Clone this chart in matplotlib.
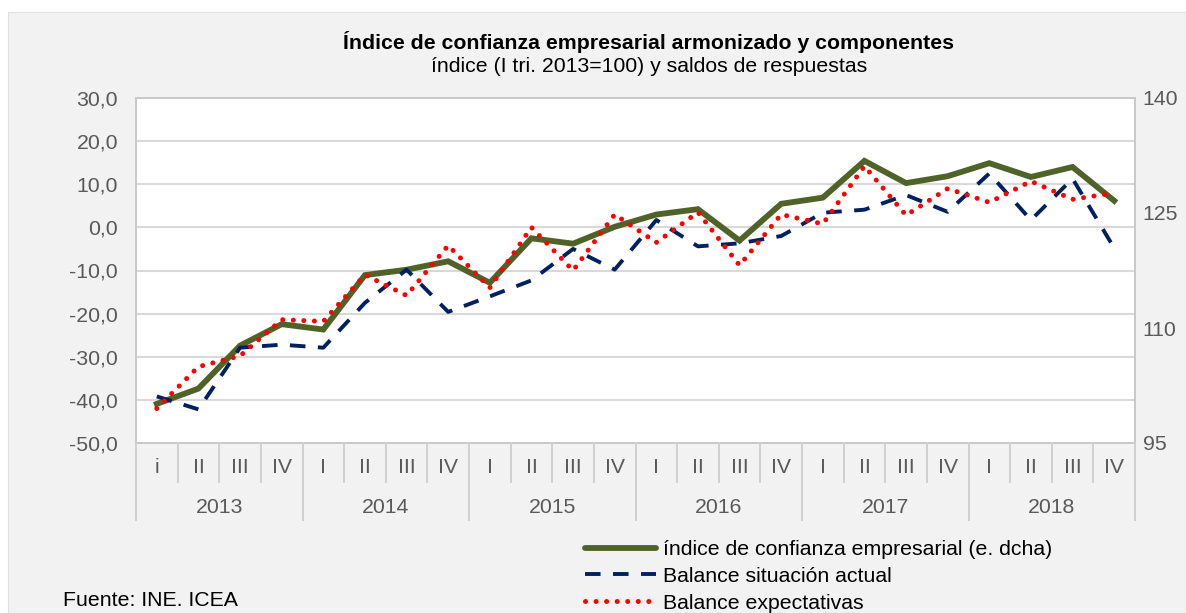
import numpy as np
import matplotlib
matplotlib.use("Agg")
import matplotlib.pyplot as plt
from matplotlib.patches import Rectangle
from matplotlib.lines import Line2D
import matplotlib.transforms as mtransforms

plt.rcParams['font.family'] = ['Liberation Sans', 'DejaVu Sans']

# data
years = ['2013', '2014', '2015', '2016', '2017', '2018']
quarters = ['i', 'II', 'III', 'IV',
            'I', 'II', 'III', 'IV',
            'I', 'II', 'III', 'IV',
            'I', 'II', 'III', 'IV',
            'I', 'II', 'III', 'IV',
            'I', 'II', 'III', 'IV']

# indice de confianza empresarial (right axis)
indice = [100.1, 102.1, 107.7, 110.5, 109.8, 116.9, 117.6, 118.7,
          115.9, 121.7, 121.0, 123.2, 124.8, 125.5, 121.4, 126.2,
          127.0, 131.8, 128.9, 129.8, 131.5, 129.7, 131.0, 126.6]

# balance situacion actual (left axis)
situacion = [-39.2, -42.2, -27.9, -27.2, -27.9, -17.5, -9.8, -19.6,
             -16.0, -12.3, -5.0, -9.8, 1.7, -4.4, -3.7, -2.0,
             3.4, 4.1, 7.5, 3.6, 12.5, 1.7, 11.3, -4.8]

# balance expectativas (left axis)
expectativas = [-42.0, -32.3, -29.8, -21.4, -21.8, -11.0, -15.8, -4.2,
                -14.0, 0.0, -10.0, 3.0, -3.5, 3.5, -8.8, 3.0,
                0.8, 14.2, 2.8, 9.0, 5.8, 10.7, 6.5, 8.0]

green = '#4f6228'
navy = '#002060'
red = '#ff0000'
grey_txt = '#595959'
fs = 15.3

green_kw = dict(color=green, lw=4.2)
navy_kw = dict(color=navy, lw=2.8, linestyle=(0, (4.0, 3.2)))
red_kw = dict(color=red, lw=3.6, linestyle=(0, (0.01, 2.1)), dash_capstyle='round')

fig = plt.figure(figsize=(11.86, 6.13), dpi=100)
fig.patch.set_facecolor('white')
fig.add_artist(Rectangle((8/1186, 0), 1 - 8/1186, 1 - 12/613, transform=fig.transFigure,
                         facecolor='#f2f2f2', edgecolor='#e0e0e0', lw=0.8, zorder=-10))

pos = [136/1186, 1 - 443/613, (1135 - 136)/1186, (443 - 98)/613]
ax2 = fig.add_axes(pos)
ax = ax2.twinx()
ax.set_position(pos)

x = np.arange(len(quarters))

# right axis (bottom layer), carries the grid
ax2.set_facecolor('white')
ax2.plot(x, indice, solid_joinstyle='miter', zorder=3, **green_kw)
ax2.set_ylim(95, 140)
ax2.set_xlim(-0.5, len(quarters) - 0.5)
ax2.set_yticks([95, 110, 125, 140])
ax2.set_yticks(np.linspace(95, 140, 9), minor=True)
ax2.grid(which='minor', axis='y', color='#d9d9d9', lw=1.5)
ax2.yaxis.tick_right()
ax2.tick_params(axis='y', which='both', length=0, pad=5.5, labelsize=fs, labelcolor=grey_txt)
ax2.tick_params(axis='x', length=0, labelbottom=False)
for s in ax2.spines.values():
    s.set_color('#c8c8c8')
    s.set_linewidth(1.4)

# left axis on top
ax.patch.set_visible(False)
ax.plot(x, situacion, zorder=3, **navy_kw)
ax.plot(x, expectativas, zorder=4, **red_kw)
ax.set_ylim(-50, 30)
ax.set_xlim(-0.5, len(quarters) - 0.5)
ax.yaxis.tick_left()
ax.set_yticks(np.arange(-50, 31, 10))
ax.set_yticklabels([f'{v:.1f}'.replace('.', ',') for v in np.arange(-50, 31, 10)])
ax.tick_params(axis='y', length=0, pad=13, labelsize=fs, labelcolor=grey_txt)
ax.set_xticks(x)
ax.set_xticklabels([])
ax.tick_params(axis='x', length=0)
for s in ax.spines.values():
    s.set_visible(False)

# category axis: quarters, years and separators
trans = mtransforms.blended_transform_factory(ax.transData, ax.transAxes)
for i, q in enumerate(quarters):
    ax.text(i, -0.070, q, transform=trans, ha='center', va='center',
            fontsize=fs, color=grey_txt)
for i in range(len(quarters) + 1):
    bottom = -0.223 if i % 4 == 0 else -0.113
    ax.add_line(Line2D([i - 0.5, i - 0.5], [0, bottom], transform=trans,
                       color='#d0d0d0', lw=1.4, clip_on=False))
for k, yr in enumerate(years):
    ax.text(4 * k + 1.5, -0.186, yr, transform=trans, ha='center', va='center',
            fontsize=fs, color=grey_txt)

# titles
fig.text(649/1186, 1 - 42/613, 'Índice de confianza empresarial armonizado y componentes',
         ha='center', va='center', fontsize=fs, fontweight='bold', color='black')
fig.text(649/1186, 1 - 66/613, 'índice (I tri. 2013=100) y saldos de respuestas',
         ha='center', va='center', fontsize=fs, color='black')

# legend
handles = [Line2D([], [], solid_capstyle='round', **green_kw),
           Line2D([], [], **navy_kw),
           Line2D([], [], **red_kw)]
labels = ['índice de confianza empresarial (e. dcha)',
          'Balance situación actual',
          'Balance expectativas']
fig.legend(handles, labels, loc='upper left', bbox_to_anchor=(585/1186, 1 - 540/613),
           frameon=False, fontsize=fs, handlelength=3.35, handletextpad=0.3,
           labelspacing=0.37, borderpad=0, borderaxespad=0)

fig.text(63/1186, 1 - 600/613, 'Fuente: INE. ICEA', ha='left', va='center',
         fontsize=fs, color='black')

fig.savefig('out.png', dpi=100, facecolor=fig.get_facecolor())
